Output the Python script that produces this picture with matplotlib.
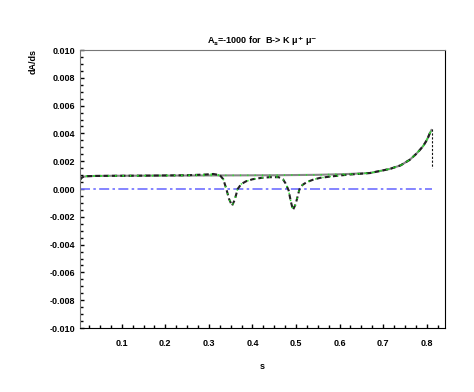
import numpy as np
import matplotlib.pyplot as plt
from matplotlib.ticker import MultipleLocator

# smooth curve (no resonances)
s_sm = [0.004, 0.008, 0.012, 0.02, 0.04, 0.08, 0.15, 0.25, 0.35, 0.45, 0.55,
        0.62, 0.67, 0.715, 0.74, 0.761, 0.775, 0.784, 0.792, 0.798, 0.803, 0.807, 0.811]
dA_sm = [0.00065, 0.00082, 0.00088, 0.00092, 0.00094, 0.00095, 0.00096, 0.00097, 0.00098,
         0.00099, 0.00102, 0.00108, 0.00115, 0.00144, 0.0017, 0.0021, 0.0025, 0.0028,
         0.0031, 0.0034, 0.0037, 0.0040, 0.00424]

# curve with resonance dips
s_res = [0.004, 0.008, 0.012, 0.02, 0.04, 0.08, 0.15, 0.25, 0.29, 0.31, 0.325, 0.333,
         0.340, 0.346, 0.353, 0.359, 0.366, 0.374, 0.385, 0.40, 0.42, 0.44, 0.46, 0.47,
         0.476, 0.483, 0.488, 0.493, 0.499, 0.508, 0.515, 0.525, 0.54, 0.555, 0.58,
         0.60, 0.62, 0.67, 0.715, 0.74, 0.761, 0.775, 0.784, 0.792, 0.798, 0.803,
         0.807, 0.811]
dA_res = [0.00065, 0.00082, 0.00088, 0.00092, 0.00094, 0.00095, 0.00096, 0.00099, 0.00104,
          0.00108, 0.00100, 0.00070, 0.00000, -0.00070, -0.00120, -0.00080, 0.00000,
          0.00035, 0.00055, 0.00070, 0.00080, 0.00085, 0.00085, 0.00070, 0.00040,
          -0.00010, -0.00090, -0.00150, -0.00110, 0.00000, 0.00030, 0.00050, 0.00068,
          0.00080, 0.00090, 0.00097, 0.00103, 0.00115, 0.00144, 0.0017, 0.0021, 0.0025,
          0.0028, 0.0031, 0.0034, 0.0037, 0.0040, 0.00424]

# end point drop
s_end = [0.8115, 0.8115]
dA_end = [0.00430, 0.00150]

s_zero = [0.004, 0.812]
zero = [0.0, 0.0]

plt.rcParams['font.family'] = ['Liberation Sans', 'DejaVu Sans']
plt.rcParams['font.weight'] = 'bold'

fig = plt.figure(figsize=(4.74, 3.92), dpi=100)
ax = fig.add_axes([80/474, 1-328/392, 365/474, 278/392])

ax.plot(s_zero, zero, color='#6f6fff', lw=1.2, ls='-.', dashes=(6, 2, 1.5, 2))
ax.plot(s_sm, dA_sm, color='#888888', lw=1.5)
ax.plot(s_res, dA_res, color='#222222', lw=1.5, ls='--', dashes=(2.5, 1.5))
ax.plot(s_res, dA_res, color='#22ee22', lw=1.1, ls=':', dashes=(0.8, 4))
ax.plot(s_sm, dA_sm, color='#22ee22', lw=1.1, ls=':', dashes=(0.8, 4))
ax.plot(s_end, dA_end, color='#111111', lw=0.8, ls='--', dashes=(2, 1.5))

ax.set_xlim(0.004, 0.842)
ax.set_ylim(-0.010, 0.010)
ax.xaxis.set_minor_locator(MultipleLocator(0.025))
ax.yaxis.set_minor_locator(MultipleLocator(0.0005))
yt = np.arange(-0.010, 0.0101, 0.002)
ax.set_yticks(yt)
ax.set_yticklabels(['%.3f' % v if abs(v) > 1e-9 else '0.000' for v in yt])
ax.set_xticks([0.1, 0.2, 0.3, 0.4, 0.5, 0.6, 0.7, 0.8])
ax.set_xticklabels(['0.1', '0.2', '0.3', '0.4', '0.5', '0.6', '0.7', '0.8'])
ax.tick_params(which='both', direction='in', labelsize=6.5, top=False, right=False)
ax.tick_params(which='major', length=3, width=1)
ax.tick_params(which='minor', length=2, width=1)
ax.tick_params(axis='x', pad=8)

for side in ['left', 'top']:
    ax.spines[side].set_color('#777777')
for side in ['right', 'bottom']:
    ax.spines[side].set_color('black')

ax.set_title('A$_{\\mathbf{s}}$=-1000 for  B-> K \u03bc$^{+}$ \u03bc$^{-}$', fontsize=6.5, fontweight='bold', pad=4)
ax.set_xlabel('s', fontsize=6.5, fontweight='bold', labelpad=10)
fig.text(33/474, 1-62/392, 'dA/ds', rotation=90, fontsize=6.5, fontweight='bold', ha='center', va='center')

fig.savefig('out.png', dpi=100)
